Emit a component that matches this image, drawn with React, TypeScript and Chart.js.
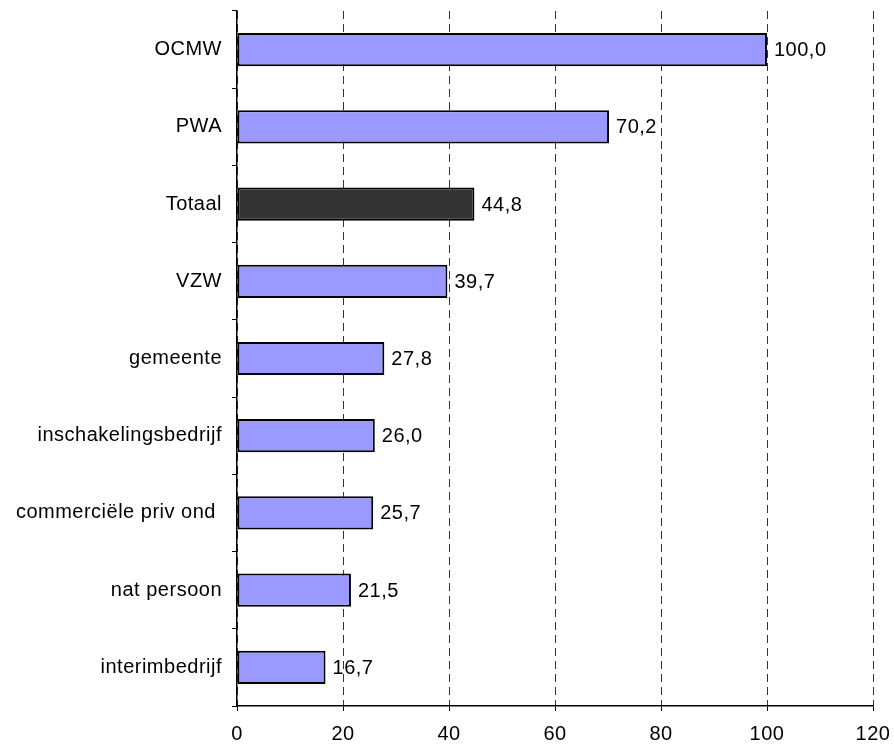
import React, { useEffect, useRef } from "react";
import { Chart, registerables } from "chart.js";
Chart.register(...registerables);

const categories = ["OCMW", "PWA", "Totaal", "VZW", "gemeente", "inschakelingsbedrijf", "commerciële priv ond ", "nat persoon", "interimbedrijf"];
const values = [100.0, 70.2, 44.8, 39.7, 27.8, 26.0, 25.7, 21.5, 16.7];
const barColors = ["#9999FF", "#9999FF", "#333333", "#9999FF", "#9999FF", "#9999FF", "#9999FF", "#9999FF", "#9999FF"];
const xTicks = [0, 20, 40, 60, 80, 100, 120];

const FONT = "'Liberation Sans', Arial, sans-serif";
const FS = 20;

const spacingPlugin = {
  id: "spacing",
  beforeLayout(chart: any) {
    chart.ctx.letterSpacing = "0.5px";
  },
  beforeDraw(chart: any) {
    chart.ctx.letterSpacing = "0.5px";
  },
};

const labelPlugin = {
  id: "valueLabels",
  afterDatasetsDraw(chart: any) {
    const ctx = chart.ctx;
    const meta = chart.getDatasetMeta(0);
    ctx.save();
    ctx.font = `${FS}px ${FONT}`;
    ctx.fillStyle = "#000";
    ctx.textAlign = "left";
    ctx.textBaseline = "middle";
    meta.data.forEach((el: any, i: number) => {
      const v = values[i].toFixed(1).replace(".", ",");
      ctx.fillText(v, el.x + 7, el.y + 1);
    });
    ctx.restore();
  },
};

export default function App() {
  const ref = useRef<HTMLCanvasElement>(null);
  useEffect(() => {
    document.body.style.margin = "0";
    const chart = new Chart(ref.current!, {
      type: "bar",
      data: {
        labels: categories,
        datasets: [
          {
            data: values,
            backgroundColor: barColors,
            borderColor: "#000",
            borderWidth: 2,
            borderSkipped: false,
            categoryPercentage: 1,
            barPercentage: 0.43,
          },
        ],
      },
      options: {
        indexAxis: "y",
        animation: false,
        responsive: false,
        maintainAspectRatio: false,
        layout: { padding: { top: 11, right: 21, left: 0, bottom: 0 } },
        plugins: { legend: { display: false }, tooltip: { enabled: false } },
        scales: {
          x: {
            min: 0,
            max: 120,
            afterBuildTicks: (s: any) => {
              s.ticks = xTicks.map((v) => ({ value: v }));
            },
            afterFit: (s: any) => {
              s.height = 45;
              s.paddingLeft = 0;
              s.paddingRight = 0;
            },
            grid: {
              color: "#333333",
              lineWidth: 1,
              drawTicks: true,
              tickLength: 5,
              tickColor: "#000",
              tickBorderDash: [],
            } as any,
            border: { display: true, color: "#000", width: 1.5, dash: [8, 5] } as any,
            ticks: { color: "#000", font: { family: FONT, size: FS }, padding: 11, maxRotation: 0 },
          },
          y: {
            afterFit: (s: any) => {
              s.width = 237;
              s.paddingTop = 0;
              s.paddingBottom = 0;
            },
            grid: {
              offset: true,
              drawOnChartArea: false,
              drawTicks: true,
              tickLength: 5,
              color: "#000",
            },
            border: { display: true, color: "#000", width: 1.5 },
            ticks: { color: "#000", font: { family: FONT, size: FS }, padding: 10 },
          },
        },
      },
      plugins: [spacingPlugin, labelPlugin],
    });
    return () => chart.destroy();
  }, []);
  return (
    <div style={{ position: "absolute", left: 0, top: 0, width: 894, height: 751, background: "#fff" }}>
      <canvas ref={ref} width={894} height={751} style={{ width: 894, height: 751 }} />
    </div>
  );
}
